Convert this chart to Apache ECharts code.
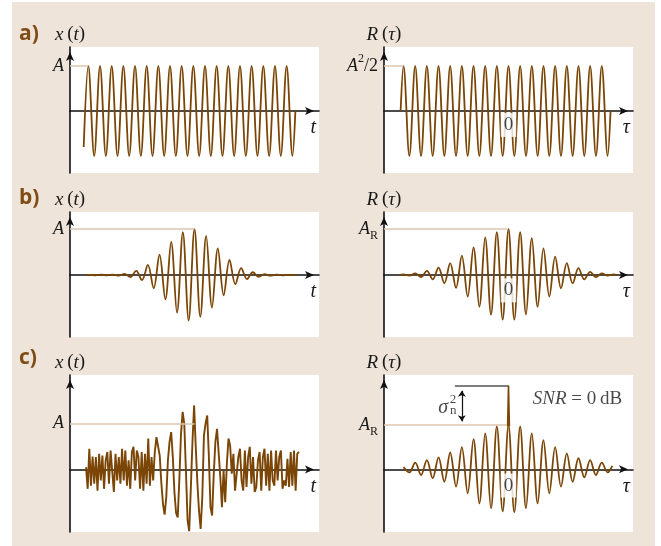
<!DOCTYPE html>
<html><head><meta charset="utf-8">
<script src="https://cdn.jsdelivr.net/npm/echarts@6/dist/echarts.min.js"></script>
<style>
html,body{margin:0;padding:0;background:#fff;}
#bg{position:absolute;left:12px;top:2px;width:643px;height:544px;background:#EEE4DA;}
#chart{position:absolute;left:0;top:0;width:661px;height:546px;}
</style></head><body>
<div id="bg"></div><div id="chart"></div>
<script>
// ---------- data (time in half-periods, amplitude in units of A / A_R) ----------
// a) left: constant sine x(t)
const aT = [-19.0, -18.2, -17.2, -16.2, -15.2, -14.2, -13.2, -12.2, -11.2, -10.2, -9.2, -8.2, -7.2, -6.2, -5.2, -4.2, -3.2, -2.2, -1.2, -0.2, 0.8, 1.8, 2.8, 3.8, 4.8, 5.8, 6.8, 7.8, 8.8, 9.8, 10.8, 11.8, 12.8, 13.8, 14.8, 15.8, 16.8, 17.3];
const aV = [-0.8, 1, -1, 1, -1, 1, -1, 1, -1, 1, -1, 1, -1, 1, -1, 1, -1, 1, -1, 1, -1, 1, -1, 1, -1, 1, -1, 1, -1, 1, -1, 1, -1, 1, -1, 1, -1, 0];
// a) right: R(tau)
const rAT = [-18.5, -18, -17, -16, -15, -14, -13, -12, -11, -10, -9, -8, -7, -6, -5, -4, -3, -2, -1, 0, 1, 2, 3, 4, 5, 6, 7, 8, 9, 10, 11, 12, 13, 14, 15, 16, 17, 17.5];
const rAV = [0, 1, -1, 1, -1, 1, -1, 1, -1, 1, -1, 1, -1, 1, -1, 1, -1, 1, -1, 1, -1, 1, -1, 1, -1, 1, -1, 1, -1, 1, -1, 1, -1, 1, -1, 1, -1, 0];
// b) left: burst x(t)
const bT = [-18.6, -18, -17, -16, -15, -14, -13, -12, -11, -10, -9, -8, -7, -6, -5, -4, -3, -2, -1, 0, 1, 2, 3, 4, 5, 6, 7, 8, 9, 10, 11, 12, 13, 14, 15, 16, 17, 17.5];
const bV = [0, 0.005, -0.005, 0.008, -0.008, 0.01, -0.015, 0.025, -0.045, 0.09, -0.11, 0.22, -0.29, 0.44, -0.53, 0.72, -0.82, 0.93, -0.99, 1.0, -0.91, 0.85, -0.71, 0.58, -0.44, 0.33, -0.2, 0.15, -0.09, 0.06, -0.04, 0.02, -0.015, 0.01, -0.008, 0.005, -0.003, 0];
// b) right: R(tau)
const bRT = [-18.8, -18, -17, -16, -15, -14, -13, -12, -11, -10, -9, -8, -7, -6, -5, -4, -3, -2, -1, 0, 1, 2, 3, 4, 5, 6, 7, 8, 9, 10, 11, 12, 13, 14, 15, 16, 17, 18, 18.6];
const bRV = [0, 0.015, -0.015, 0.036, -0.045, 0.09, -0.095, 0.16, -0.18, 0.26, -0.28, 0.42, -0.47, 0.6, -0.69, 0.82, -0.86, 0.93, -0.97, 1.0, -0.97, 0.93, -0.86, 0.8, -0.69, 0.58, -0.47, 0.4, -0.29, 0.26, -0.18, 0.15, -0.095, 0.07, -0.05, 0.036, -0.015, 0.015, 0];
// c) left: noisy burst, sampled signal
const cNoisyT0 = -18.6;
const cNoisyDt = 0.2808;
const cNoisyV = [
  0.05, -0.42, 0.45, -0.35, 0.28, -0.31, 0.27, -0.46, 0.34, -0.24,
  0.30, -0.42, 0.20, 0.38, -0.31, 0.41, 0.45, -0.49, 0.34, -0.24,
  0.27, -0.31, 0.45, -0.24, 0.41, -0.35, 0.20, -0.42, 0.38, 0.49,
  -0.24, 0.41, 0.27, -0.42, 0.38, -0.46, 0.34, -0.31, 0.67, -0.35,
  0.27, -0.24, 0.38, 0.70,
  0.72, 0.30, -0.30, -0.75, -0.98, -0.60, 0.20, 0.60, 0.81, 0.27,
  -0.50, -0.95, -1.04, -0.20, 0.78, 1.25, 0.99, -0.02, -1.10, -1.34,
  -0.40, 0.60, 1.39, 0.50, -0.30, -0.90, -1.29, -0.60, 0.74, 1.00,
  1.17, 0.30, -0.82, -1.00, -0.10, 0.60, 0.88, 0.92, -0.16, -0.82,
  -0.02, -0.71, 0.12, 0.67,
  0.52, -0.09, 0.34, -0.46, -0.42, 0.27, 0.45, -0.24, -0.46, 0.41,
  -0.38, 0.27, 0.49, -0.31, 0.27, -0.49, -0.38, 0.20, 0.38, -0.46,
  0.27, 0.45, -0.35, 0.34, -0.46, 0.41, -0.24, -0.35, 0.41, -0.24,
  0.27, 0.41, -0.42, -0.24, -0.35, 0.23, -0.38, 0.38, -0.35, 0.41,
  -0.46, 0.34, 0.38
];
// c) right: R(tau) with noise spike
const cRT = [-18, -17, -16, -15, -14, -13, -12, -11, -10, -9, -8, -7, -6, -5, -4, -3, -2, -1, 0, 1, 2, 3, 4, 5, 6, 7, 8, 9, 10, 11, 12, 13, 14, 15, 16, 17, 17.8];
const cRV = [0.05, -0.07, 0.15, -0.13, 0.21, -0.2, 0.27, -0.28, 0.38, -0.39, 0.5, -0.54, 0.68, -0.77, 0.81, -0.88, 0.97, -0.95, 1.0, -0.97, 0.97, -0.88, 0.81, -0.77, 0.66, -0.54, 0.5, -0.39, 0.36, -0.28, 0.25, -0.18, 0.21, -0.13, 0.15, -0.07, 0.08];
const cSpikeT = [-0.15, 0, 0.15];
const cSpikeV = [0.97, 1.89, 0.97];
const sigmaN2Level = 1.89;   // top of the noise spike
const levelA = 1;            // A / A_R level

// ---------- styling ----------
const WAVE = '#7a4505', REF = '#dcc6b0', AX = '#111', TXT = '#1a1a1a';
const SERIF = "'Liberation Serif','Times New Roman',serif";
const SANS = "'Open Sans','Noto Sans',sans-serif";
const RICH = {
  i: {fontFamily: SERIF, fontStyle: 'italic', fontSize: 19, color: TXT},
  r: {fontFamily: SERIF, fontSize: 19, color: TXT},
  I: {fontFamily: SERIF, fontStyle: 'italic', fontSize: 18, color: TXT, lineHeight: 26},
  R: {fontFamily: SERIF, fontSize: 18, color: TXT, lineHeight: 26},
  sup: {fontFamily: SERIF, fontSize: 12, color: TXT, lineHeight: 13, verticalAlign: 'top'},
  sub: {fontFamily: SERIF, fontSize: 12, color: TXT, lineHeight: 13, verticalAlign: 'bottom'},
  s: {fontFamily: SERIF, fontStyle: 'italic', fontSize: 20, color: TXT},
  sm: {fontFamily: SERIF, fontSize: 13, color: TXT}
};
const XR = [-21.35, 21.35];
const YR = [[-1.378, 1.422], [-1.378, 1.422], [-1.348, 1.37], [-1.348, 1.37], [-1.357, 2.05], [-1.415, 2.13]];
const pairs = (ts, vs) => ts.map((t, i) => [t, vs[i]]);

const grids = [
  {left: 70, top: 47, width: 249, height: 126},
  {left: 384, top: 47, width: 249, height: 126},
  {left: 70, top: 212, width: 249, height: 125},
  {left: 384, top: 212, width: 249, height: 125},
  {left: 70, top: 375, width: 249, height: 157},
  {left: 384, top: 375, width: 249, height: 157}
].map(g => Object.assign({show: true, backgroundColor: '#fff', borderWidth: 0}, g));

function xAx(gi, name) {
  return {type: 'value', gridIndex: gi, min: XR[0], max: XR[1],
    axisLine: {show: true, onZero: true, symbol: ['none', 'arrow'], symbolSize: [6, 9], symbolOffset: [0, -5], lineStyle: {color: AX, width: 1.6}},
    axisTick: {show: false}, axisLabel: {show: false}, splitLine: {show: false},
    name: name, nameLocation: 'end', nameGap: -3,
    nameTextStyle: {align: 'right', verticalAlign: 'top', padding: [7, 0, 0, 0], fontFamily: SERIF, fontSize: 20, color: TXT,
      rich: {i: {fontFamily: SERIF, fontStyle: 'italic', fontSize: 20, color: TXT}}}};
}
function yAx(gi, name) {
  return {type: 'value', gridIndex: gi, min: YR[gi][0], max: YR[gi][1],
    axisLine: {show: true, onZero: false, symbol: ['none', 'arrow'], symbolSize: [6, 9], symbolOffset: [0, -5], lineStyle: {color: AX, width: 1.6}},
    axisTick: {show: false}, axisLabel: {show: false}, splitLine: {show: false},
    name: name, nameLocation: 'end', nameGap: 3,
    nameTextStyle: {fontFamily: SERIF, fontSize: 19, color: TXT, rich: RICH}};
}
const xName = '{i|x}{r|\u2009(}{i|t}{r|)}';
const rName = '{i|R}{r|\u2009(}{i|\u03c4}{r|)}';

function refLine(x1, label) {
  return {silent: true, symbol: ['none', 'none'], animation: false,
    lineStyle: {color: REF, width: 1.5, type: 'solid'},
    label: {show: true, position: 'start', distance: 6, formatter: label, rich: RICH, color: TXT},
    emphasis: {disabled: true},
    data: [[{coord: [XR[0], levelA]}, {coord: [x1, levelA]}]]};
}
function wave(gi, data, smooth, label, refEnd, width) {
  return {type: 'line', xAxisIndex: gi, yAxisIndex: gi, data: data, smooth: smooth,
    showSymbol: false, symbol: 'none', z: 3, silent: true,
    lineStyle: {color: WAVE, width: width || 1.8},
    markLine: label ? refLine(refEnd, label) : undefined};
}
function zeroLabel(gi, y) {
  return {type: 'scatter', xAxisIndex: gi, yAxisIndex: gi, data: [[0, y]], symbolSize: 1,
    itemStyle: {color: 'rgba(0,0,0,0)'}, z: 10, silent: true,
    label: {show: true, position: 'inside', formatter: '0', fontFamily: SERIF, fontSize: 19, lineHeight: 18,
      color: TXT, backgroundColor: '#fff', padding: [4, 3, 2, 3]}};
}

const series = [
  wave(0, pairs(aT, aV), 0.35, '{I|A}', aT[1]),
  wave(1, pairs(rAT, rAV), 0.35, '{I|A}{sup|2}{R|/2}', rAT[1]),
  wave(2, pairs(bT, bV), 0.35, '{I|A}', 0),
  wave(3, pairs(bRT, bRV), 0.35, '{I|A}{sub|R}', -0.25),
  wave(4, cNoisyV.map((v, i) => [cNoisyT0 + i * cNoisyDt, v]), false, '{I|A}', 0, 1.9),
  wave(5, pairs(cRT, cRV), 0.35, '{I|A}{sub|R}', -0.25),
  {type: 'line', xAxisIndex: 5, yAxisIndex: 5, data: pairs(cSpikeT, cSpikeV), smooth: false,
    showSymbol: false, symbol: 'none', z: 4, silent: true, lineStyle: {color: WAVE, width: 1.6},
    markLine: {silent: true, symbol: ['none', 'none'], animation: false, label: {show: false},
      lineStyle: {color: '#555', width: 1.5, type: 'solid'}, emphasis: {disabled: true},
      data: [[{coord: [-9.2, sigmaN2Level]}, {coord: [0, sigmaN2Level]}]]}},
  zeroLabel(1, -0.31),
  zeroLabel(3, -0.333),
  zeroLabel(5, -0.366),
  {type: 'scatter', xAxisIndex: 5, yAxisIndex: 5, symbolSize: 1, itemStyle: {color: 'rgba(0,0,0,0)'}, z: 10, silent: true,
    label: {show: true, position: 'inside', rich: RICH, color: TXT},
    data: [
      {value: [-11.18, 1.384], label: {formatter: '{s|\u03c3}'}},
      {value: [-9.52, 1.564], label: {formatter: '{sm|2}'}},
      {value: [-9.47, 1.327], label: {formatter: '{sm|n}'}},
      {value: [11.84, 1.587], label: {formatter: '{i|SNR}{r| = 0\u2009dB}'}}
    ],
    markLine: {silent: true, symbol: ['arrow', 'arrow'], symbolSize: 6, animation: false, label: {show: false},
      lineStyle: {color: AX, width: 1.2, type: 'solid'}, emphasis: {disabled: true},
      data: [[{coord: [-8, 1.774]}, {coord: [-8, 1.083]}]]}}
];

const titleStyle = {color: '#7f4d14', fontSize: 21, fontWeight: 'bold', fontFamily: SANS};
const option = {
  animation: false,
  backgroundColor: 'transparent',
  title: [
    {text: 'a)', left: 19, top: 24, textStyle: titleStyle, padding: 0},
    {text: 'b)', left: 19, top: 188, textStyle: titleStyle, padding: 0},
    {text: 'c)', left: 19, top: 348, textStyle: titleStyle, padding: 0}
  ],
  grid: grids,
  xAxis: [xAx(0, '{i|t}'), xAx(1, '{i|\u03c4}'), xAx(2, '{i|t}'), xAx(3, '{i|\u03c4}'), xAx(4, '{i|t}'), xAx(5, '{i|\u03c4}')],
  yAxis: [yAx(0, xName), yAx(1, rName), yAx(2, xName), yAx(3, rName), yAx(4, xName), yAx(5, rName)],
  series: series
};
const chart = echarts.init(document.getElementById('chart'), null, {renderer: 'canvas'});
chart.setOption(option);
</script>
</body></html>
